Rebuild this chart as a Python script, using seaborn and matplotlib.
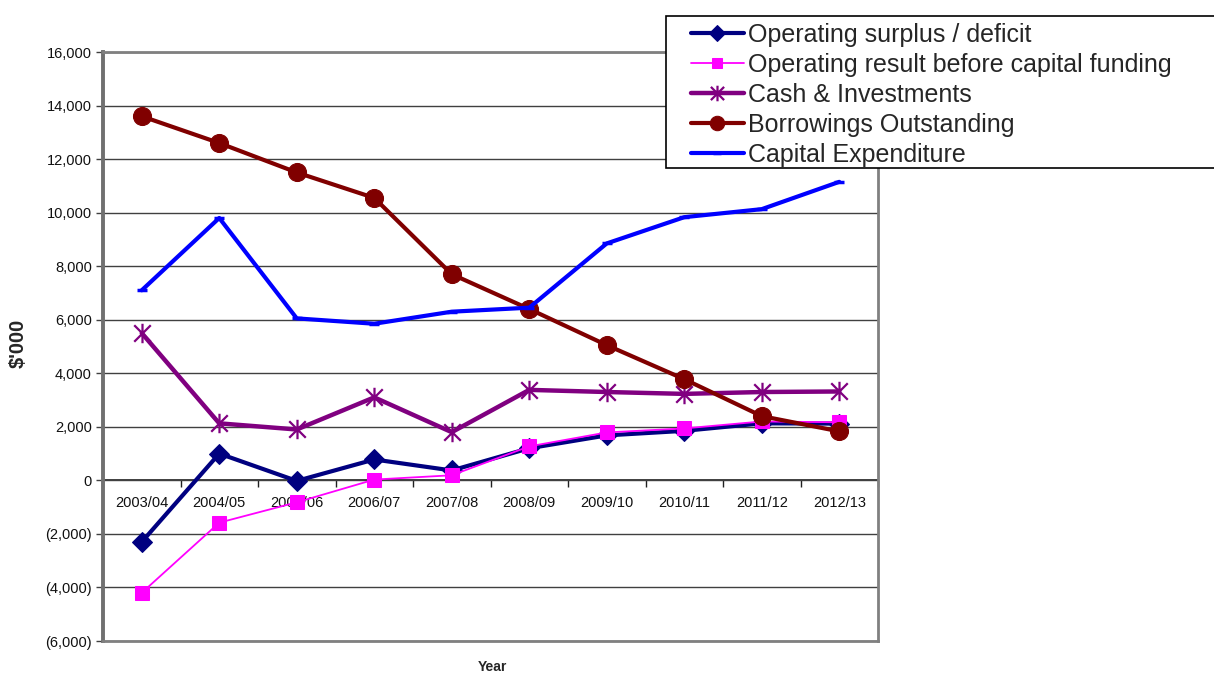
import numpy as np
import matplotlib
matplotlib.use("Agg")
import matplotlib.pyplot as plt
from matplotlib.path import Path
from matplotlib.patches import Rectangle
from matplotlib.ticker import FuncFormatter, FixedLocator
import seaborn as sns

# ---- data ($'000) ----
years = ["2003/04", "2004/05", "2005/06", "2006/07", "2007/08",
         "2008/09", "2009/10", "2010/11", "2011/12", "2012/13"]
operating_surplus = [-2300, 1000, -20, 780, 370, 1200, 1680, 1850, 2130, 2120]
operating_before_capital = [-4200, -1580, -820, 30, 190, 1270, 1790, 1940, 2200, 2170]
cash_investments = [5500, 2130, 1900, 3100, 1800, 3380, 3300, 3230, 3300, 3320]
borrowings = [13600, 12600, 11500, 10550, 7700, 6400, 5050, 3780, 2400, 1830]
capital_expenditure = [7100, 9800, 6050, 5850, 6300, 6450, 8850, 9830, 10130, 11150]

series_names = ["Operating surplus / deficit",
                "Operating result before capital funding",
                "Cash & Investments",
                "Borrowings Outstanding",
                "Capital Expenditure"]
series_values = [operating_surplus, operating_before_capital, cash_investments,
                 borrowings, capital_expenditure]

sns.set_style("white")
plt.rcParams["font.family"] = ["Liberation Sans", "DejaVu Sans"]

# six-armed asterisk: vertical bar plus an X
star = Path([(0, -1), (0, 1), (-0.85, -0.85), (0.85, 0.85), (-0.85, 0.85), (0.85, -0.85)],
            [Path.MOVETO, Path.LINETO, Path.MOVETO, Path.LINETO, Path.MOVETO, Path.LINETO])

styles = [
    dict(color="#000080", marker="D", markersize=10, lw=3.0, mec="#000080"),
    dict(color="#FF00FF", marker="s", markersize=9.5, lw=1.3, mec="#FF00FF"),
    dict(color="#800080", marker=star, markersize=14, lw=3.2, mfc="none",
         mec="#800080", mew=1.6),
    dict(color="#800000", marker="o", markersize=13, lw=3.0, mec="#800000"),
    dict(color="#0000FF", marker="_", markersize=7, lw=3.0, mec="#0000FF", mew=2.5),
]

fig = plt.figure(figsize=(12.14, 6.73), dpi=100)
ax = fig.add_axes([103 / 1214, 1 - 641 / 673, (878 - 103) / 1214, (641 - 52) / 673])

xpos = np.arange(len(years))
for name, vals, st in zip(series_names, series_values, styles):
    sns.lineplot(x=xpos, y=vals, ax=ax, label=name, **st)

ax.set_xlim(-0.5, len(years) - 0.5)
ax.set_ylim(-6000, 16000)
ax.yaxis.set_major_locator(FixedLocator(np.arange(-6000, 16001, 2000)))
ax.yaxis.set_major_formatter(FuncFormatter(
    lambda v, _: f"{v:,.0f}" if v >= 0 else f"({-v:,.0f})"))
ax.grid(axis="y", color="#404040", lw=1.0)
ax.grid(axis="x", visible=False)
ax.set_axisbelow(True)
ax.tick_params(axis="y", left=True, length=5, width=1, color="#404040",
               labelsize=10.5, pad=3, labelcolor="#111111")
ax.tick_params(axis="x", bottom=False, labelbottom=False)
ax.set_xlabel("")
ax.set_ylabel("")
for side, sp in ax.spines.items():
    sp.set_visible(True)
    sp.set_color("#808080")
    sp.set_linewidth(2.0)
ax.spines["left"].set_linewidth(2.8)
ax.spines["left"].set_color("#707070")

# category axis sits on the zero line
sec = ax.secondary_xaxis(6000 / 22000)
sec.set_xticks(xpos, labels=years)
sec.set_xticks(np.arange(-0.5, len(years), 1), minor=True)
sec.tick_params(which="major", length=0, pad=11, labelsize=10.5, labelcolor="#111111")
sec.tick_params(which="minor", length=5, width=1, color="#202020", direction="out")
sec.spines["bottom"].set_color("#202020")
sec.spines["bottom"].set_linewidth(1.2)

leg = ax.get_legend()
handles, labels = ax.get_legend_handles_labels()
if leg is not None:
    leg.remove()

# legend frame
fig.patches.append(Rectangle((666 / 1214, 1 - 168 / 673), 0.46, 152 / 673,
                             transform=fig.transFigure, facecolor="white",
                             edgecolor="black", lw=1.2, zorder=5))
fig.legend(handles, labels, loc="upper left",
           bbox_to_anchor=(691 / 1214, 1 - 23 / 673), frameon=False,
           fontsize=18, handlelength=2.1, handletextpad=0.2, labelspacing=0.24,
           borderpad=0, borderaxespad=0, markerscale=0.8).set_zorder(6)

fig.text(18 / 1214, 1 - 343 / 673, "$'000", rotation=90, ha="center", va="center",
         fontsize=14.5, fontweight="bold")
fig.text(492 / 1214, 1 - 667 / 673, "Year", ha="center", va="center",
         fontsize=10, fontweight="bold")

fig.savefig("out.png", dpi=100, facecolor="white")
